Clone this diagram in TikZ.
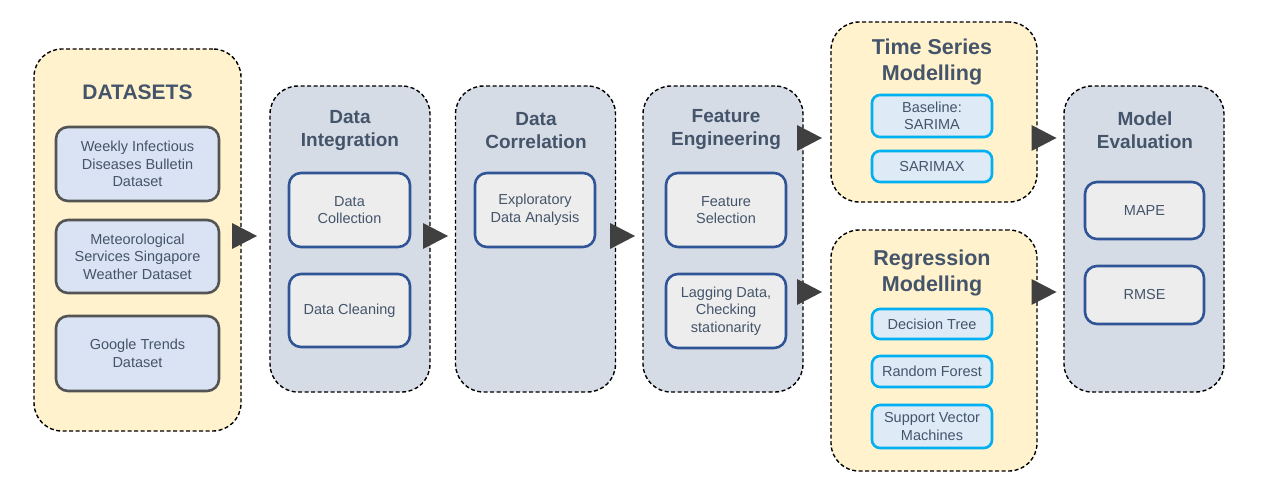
\documentclass[tikz,border=0pt]{standalone}
\usepackage{fontspec}
\setmainfont{Liberation Sans}
\usetikzlibrary{calc}
\definecolor{yel}{HTML}{FFF2CC}
\definecolor{gpan}{HTML}{D6DCE5}
\definecolor{dfill}{HTML}{DAE3F3}
\definecolor{dline}{HTML}{545454}
\definecolor{gfill}{HTML}{EDEDED}
\definecolor{gline}{HTML}{2F5597}
\definecolor{cfill}{HTML}{DEEBF7}
\definecolor{cline}{HTML}{00B0F0}
\definecolor{txt}{HTML}{44546A}
\definecolor{arr}{HTML}{404040}
\tikzset{
  panel/.style={draw=black, line width=1.4pt, dash pattern=on 4pt off 2.5pt,
    rounded corners=28pt, inner sep=0pt},
  ypanel/.style={panel, fill=yel},
  gpanel/.style={panel, fill=gpan},
  ttl/.style={text=txt, font=\fontsize{19}{23}\selectfont\bfseries, align=center, inner sep=0pt},
  bigttl/.style={text=txt, font=\fontsize{21.5}{26}\selectfont\bfseries, align=center, inner sep=0pt},
  body/.style={text=txt, font=\fontsize{14.5}{17.5}\selectfont, align=center, inner sep=0pt},
  dbox/.style={body, draw=dline, fill=dfill, line width=2.6pt, rounded corners=12pt,
    minimum width=163pt},
  gbox/.style={body, draw=gline, fill=gfill, line width=2.6pt, rounded corners=12pt,
    minimum width=120pt},
  cbox/.style={body, draw=cline, fill=cfill, line width=2.6pt, rounded corners=8pt,
    minimum width=120pt},
  tri/.style={fill=arr}
}
\begin{document}
\begin{tikzpicture}[x=1pt,y=-1pt]
\useasboundingbox (0,0) rectangle (1280,492);
% panels
\node[ypanel, minimum width=207pt, minimum height=382pt] (ds) at (137.5,240) {};
\node[gpanel, minimum width=160pt, minimum height=306pt] (di) at (350,239) {};
\node[gpanel, minimum width=160pt, minimum height=306pt] (dc) at (535.5,239) {};
\node[gpanel, minimum width=160pt, minimum height=306pt] (fe) at (723,239) {};
\node[ypanel, minimum width=206pt, minimum height=180pt] (ts) at (934,112) {};
\node[ypanel, minimum width=206pt, minimum height=241pt] (rm) at (934,350.5) {};
\node[gpanel, minimum width=160pt, minimum height=306pt] (me) at (1144,239) {};
% titles
\node[ttl, font=\fontsize{21}{25}\selectfont\bfseries] (dst) at (137.5,92) {DATASETS};
\node[ttl] (dit) at (350,130.5) {Data\\Integration};
\node[ttl] (dct) at (536,130.5) {Data\\Correlation};
\node[ttl] (fet) at (726,129.5) {Feature\\Engineering};
\node[bigttl] (tst) at (932,62) {Time Series\\Modelling};
\node[bigttl] (rmt) at (932,273) {Regression\\Modelling};
\node[ttl] (met) at (1145,130) {Model\\Evaluation};
% dataset boxes
\node[dbox, minimum height=74pt] (d1) at (137.5,164) {Weekly Infectious\\Diseases Bulletin\\Dataset};
\node[dbox, minimum height=73pt] (d2) at (137.5,256.5) {Meteorological\\Services Singapore\\Weather Dataset};
\node[dbox, minimum height=75pt] (d3) at (137.5,353.5) {Google Trends\\Dataset};
% integration
\node[gbox, minimum width=121pt, minimum height=74pt] (b1) at (349.5,210) {Data\\Collection};
\node[gbox, minimum width=121pt, minimum height=73pt] (b2) at (349.5,310.5) {Data Cleaning};
% correlation
\node[gbox, minimum height=74pt] (b3) at (535,210) {Exploratory\\Data Analysis};
% feature engineering
\node[gbox, minimum height=74pt] (b4) at (726,210) {Feature\\Selection};
\node[gbox, minimum height=74pt] (b5) at (726,311) {Lagging Data,\\Checking\\stationarity};
% time series
\node[cbox, minimum height=42pt] (c1) at (932,116) {Baseline:\\SARIMA};
\node[cbox, minimum height=31pt] (c2) at (932,166.5) {SARIMAX};
% regression
\node[cbox, minimum height=30pt] (c3) at (932,324) {Decision Tree};
\node[cbox, minimum height=31pt] (c4) at (932,371.5) {Random Forest};
\node[cbox, minimum height=43pt] (c5) at (932,426.5) {Support Vector\\Machines};
% evaluation
\node[gbox, minimum width=119pt, minimum height=57pt] (e1) at (1144.5,210.5) {MAPE};
\node[gbox, minimum width=119pt, minimum height=58pt] (e2) at (1144.5,295) {RMSE};
% arrows
\coordinate (a1) at (244.5,236);
\coordinate (a2) at (435.5,236);
\coordinate (a3) at (622.5,236);
\coordinate (a4) at (809.5,138);
\coordinate (a5) at (809.5,292);
\coordinate (a6) at (1044,138);
\coordinate (a7) at (1044,292);
\foreach \a in {a1,a2,a3,a4,a5,a6,a7}{
  \fill[tri] (\a) ++(-12.5,-13) -- ++(25,13) -- ++(-25,13) -- cycle;
}
\end{tikzpicture}
\end{document}
